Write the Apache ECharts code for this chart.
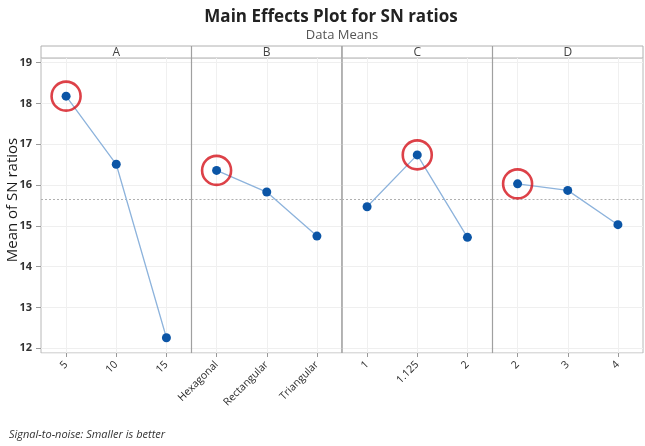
<!DOCTYPE html>
<html><head><meta charset="utf-8">
<script src="https://cdn.jsdelivr.net/npm/echarts@6/dist/echarts.min.js"></script>
<style>html,body{margin:0;padding:0;background:#fff}#c{width:645px;height:446px}</style>
</head><body><div id="c"></div>
<script>
// ---- data ----
const factors = ['A', 'B', 'C', 'D'];
const levelsA = ['5', '10', '15'];
const levelsB = ['Hexagonal', 'Rectangular', 'Triangular'];
const levelsC = ['1', '1.125', '2'];
const levelsD = ['2', '3', '4'];
const meansA = [18.18, 16.51, 12.26];
const meansB = [16.36, 15.83, 14.75];
const meansC = [15.47, 16.74, 14.72];
const meansD = [16.03, 15.87, 15.03];
const grandMean = 15.65;
const yMin = 11.885, yMax = 19.115;
const yTitle = 'Mean of SN ratios';

// ---- layout ----
const levels = [levelsA, levelsB, levelsC, levelsD];
const means = [meansA, meansB, meansC, meansD];
const panelLeft = [41, 191.5, 342, 492.5];
const panelW = 150.5, gridTop = 58, gridH = 295, stripTop = 46;
const font = '"Open Sans", "Noto Sans", sans-serif';

const grids = [], xAxes = [], yAxes = [], series = [], graphics = [];
factors.forEach((f, i) => {
  grids.push({left: panelLeft[i], top: gridTop, width: panelW, height: gridH,
    outerBoundsMode: 'none',
    show: true, borderColor: '#b8b8b8', borderWidth: 1, backgroundColor: '#fff'});
  xAxes.push({type: 'category', gridIndex: i, data: levels[i], boundaryGap: true,
    axisLine: {show: false}, splitLine: {show: false},
    axisTick: {show: true, alignWithLabel: true, length: 4, lineStyle: {color: '#999'}},
    axisLabel: {rotate: 45, fontSize: 10.5, color: '#2a2a2a', fontFamily: font, margin: 10, interval: 0}});
  yAxes.push({type: 'value', gridIndex: i, min: yMin, max: yMax, splitNumber: 7,
    axisLine: {show: false},
    axisTick: {show: i === 0, length: 5, lineStyle: {color: '#999'}},
    axisLabel: {show: i === 0, showMinLabel: false, showMaxLabel: false, fontSize: 11,
      fontWeight: 'bold', color: '#333', fontFamily: font, margin: 9},
    splitLine: {show: true, lineStyle: {color: '#efefef', width: 1}}});
  const vals = means[i];
  const best = vals.indexOf(Math.max(...vals));
  series.push({type: 'line', xAxisIndex: i, yAxisIndex: i, data: vals,
    symbol: 'circle', symbolSize: 9, z: 5,
    lineStyle: {color: '#8db3dc', width: 1.3},
    itemStyle: {color: '#0b55a6'},
    markLine: {silent: true, symbol: 'none', label: {show: false}, animation: false,
      data: [
        ...levels[i].map(l => ({xAxis: l, lineStyle: {color: '#f0f0f0', width: 1, type: 'solid'}})),
        {yAxis: grandMean, lineStyle: {color: '#b0b0b0', width: 1, type: [2, 2]}}
      ]}});
  series.push({type: 'scatter', xAxisIndex: i, yAxisIndex: i,
    data: [[levels[i][best], vals[best]]], symbol: 'circle', symbolSize: 29, z: 6,
    itemStyle: {color: 'rgba(0,0,0,0)', borderColor: '#d4121a', borderWidth: 2.6}});
  graphics.push({type: 'rect', shape: {x: panelLeft[i], y: stripTop, width: panelW, height: gridTop - stripTop},
    style: {fill: '#fff', stroke: '#b0b0b0', lineWidth: 1}, z: 1});
  graphics.push({type: 'text', x: panelLeft[i] + panelW / 2, y: stripTop + (gridTop - stripTop) / 2 + 0.5,
    style: {text: f, fontSize: 12, fontWeight: 'normal', fill: '#444', fontFamily: font,
      textAlign: 'center', textVerticalAlign: 'middle'}, z: 2});
});
// darker panel separators
[191.5, 342, 492.5].forEach(x => graphics.push({type: 'line', shape: {x1: x, y1: stripTop, x2: x, y2: gridTop + gridH},
  style: {stroke: '#a0a0a0', lineWidth: 1.2}, z: 3}));
// y-axis title
graphics.push({type: 'text', x: 13, y: 200, rotation: Math.PI / 2,
  style: {text: yTitle, fontSize: 15, fill: '#1a1a1a', fontFamily: font,
    textAlign: 'center', textVerticalAlign: 'middle'}, z: 2});

const chart = echarts.init(document.getElementById('c'), null, {renderer: 'canvas'});
chart.setOption({
  animation: false,
  backgroundColor: '#fff',
  title: [
    {text: 'Main Effects Plot for SN ratios', left: 326, top: 4, textAlign: 'center',
      textStyle: {fontSize: 17, fontWeight: 'bold', color: '#222', fontFamily: font}},
    {text: 'Data Means', left: 337, top: 24, textAlign: 'center',
      textStyle: {fontSize: 13, fontWeight: 'normal', color: '#555', fontFamily: font}},
    {text: 'Signal-to-noise: Smaller is better', left: 4, top: 424,
      textStyle: {fontSize: 11, fontWeight: 'normal', fontStyle: 'italic', color: '#333', fontFamily: font}}
  ],
  grid: grids, xAxis: xAxes, yAxis: yAxes, series: series, graphic: graphics
});
</script></body></html>
